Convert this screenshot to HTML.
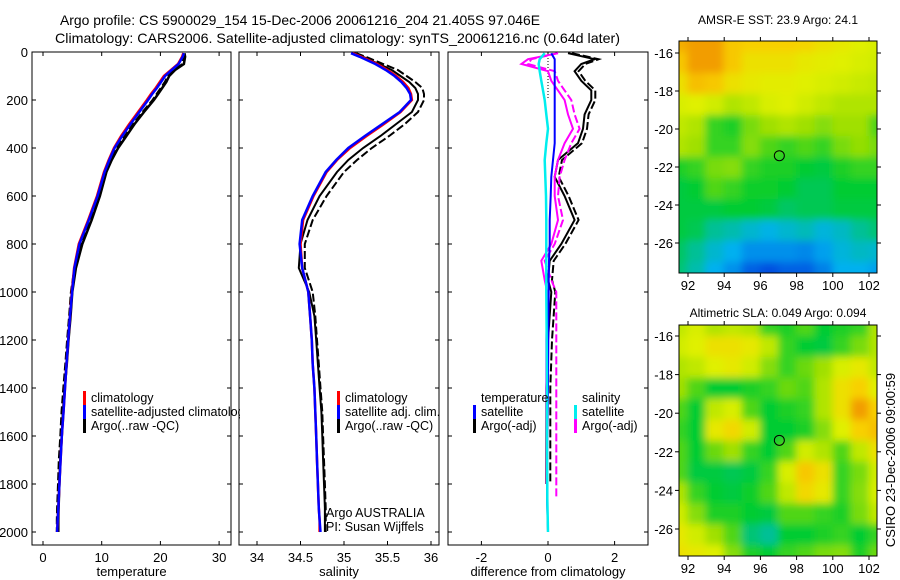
<!DOCTYPE html>
<html><head><meta charset="utf-8"><style>
body{margin:0;background:#fff;}
svg{display:block;font-family:"Liberation Sans",sans-serif;}
</style></head><body>
<svg id="fig" width="900" height="580" viewBox="0 0 900 580">
<defs>
<filter id="blur" x="0" y="0" width="1" height="1"><feGaussianBlur stdDeviation="4"/></filter>
<clipPath id="c1"><rect x="679" y="41" width="198" height="232"/></clipPath>
<clipPath id="c2"><rect x="679" y="325" width="198" height="231"/></clipPath>
<clipPath id="lgclip"><rect x="33" y="370" width="207" height="80"/></clipPath>
</defs>
<text x="60" y="25" font-size="14" textLength="480" lengthAdjust="spacingAndGlyphs">Argo profile: CS 5900029_154 15-Dec-2006 20061216_204 21.405S 97.046E</text>
<text x="55" y="43" font-size="14" textLength="565" lengthAdjust="spacingAndGlyphs">Climatology: CARS2006. Satellite-adjusted climatology: synTS_20061216.nc (0.64d later)</text>
<text x="778" y="24" font-size="12" text-anchor="middle">AMSR-E SST: 23.9  Argo: 24.1</text>
<text x="778" y="317" font-size="12" text-anchor="middle">Altimetric SLA: 0.049  Argo: 0.094</text>
<text x="0" y="0" font-size="13" text-anchor="middle" transform="translate(895,460) rotate(-90)">CSIRO 23-Dec-2006 09:00:59</text>
<g id="g"></g>
</svg>
<script>
const depths=[5,20,50,75,100,125,150,175,200,250,300,350,400,450,500,600,700,800,900,1000,1100,1200,1300,1400,1500,1600,1700,1800,1900,1950,2000];
const tempClim=[23.9,23.7,23.0,21.8,20.6,19.9,19.2,18.4,17.7,16.2,14.7,13.3,12.1,11.2,10.4,9.2,7.7,6.1,5.3,4.9,4.6,4.3,4.0,3.75,3.5,3.2,3.0,2.8,2.6,2.5,2.4];
const tempSat=[24.0,23.8,23.1,21.9,20.8,20.1,19.4,18.6,17.9,16.4,14.9,13.5,12.2,11.3,10.5,9.3,7.8,6.2,5.35,4.95,4.6,4.3,4.0,3.75,3.5,3.2,3.0,2.8,2.6,2.5,2.4];
const tempArgo=[24.1,24.2,24.0,22.5,21.5,21.0,20.3,19.6,18.9,17.2,15.6,14.2,12.8,11.7,10.8,9.7,8.3,6.7,5.6,5.0,4.7,4.35,4.05,3.7,3.4,3.2,2.95,2.8,2.65,2.6,2.6];
const salClim=[35.10,35.2,35.38,35.5,35.6,35.68,35.74,35.77,35.78,35.65,35.46,35.26,35.07,34.92,34.8,34.65,34.53,34.5,34.52,34.59,34.61,34.63,34.64,34.66,34.67,34.68,34.69,34.7,34.71,34.72,34.72];
const salSat=[35.08,35.18,35.36,35.48,35.58,35.66,35.72,35.76,35.77,35.64,35.44,35.24,35.05,34.91,34.79,34.64,34.52,34.49,34.52,34.59,34.61,34.63,34.64,34.66,34.67,34.68,34.69,34.7,34.71,34.72,34.73];
const salArgo=[35.12,35.22,35.4,35.55,35.65,35.75,35.82,35.85,35.85,35.78,35.6,35.42,35.22,35.05,34.92,34.72,34.58,34.5,34.48,34.6,34.66,34.68,34.7,34.72,34.74,34.75,34.76,34.77,34.78,34.78,34.78];
const salArgoQC=[35.14,35.25,35.45,35.62,35.72,35.82,35.9,35.92,35.92,35.85,35.7,35.52,35.32,35.15,35.0,34.8,34.64,34.55,34.55,34.64,34.67,34.69,34.71,34.73,34.75,34.76,34.77,34.78,34.79,34.79,34.79];
const diffDepths=[5,30,50,80,120,160,200,260,320,380,450,520,600,700,800,870,950,1000,1200,1400,1600,1800,1860,2000];
const dTempSat=[0.1,0.2,0.2,0.2,0.2,0.2,0.2,0.2,0.2,0.2,0.15,0.1,0.08,0.05,0.05,0.03,0.02,0.02,0.01,0.0,-0.02,-0.03,-0.03,0.0];
const dSalSat=[-0.1,-0.25,-0.28,-0.25,-0.2,-0.15,-0.1,-0.05,0.0,-0.05,-0.1,-0.08,-0.06,-0.05,-0.05,-0.05,-0.05,-0.05,-0.04,-0.03,-0.03,-0.02,-0.02,0.0];
const dTempArgo=[0.6,1.4,1.0,0.8,1.0,1.3,1.3,1.1,1.05,0.9,0.3,0.2,0.5,0.8,0.4,0.05,0.0,0.1,0.0,-0.05,-0.05,-0.05,null,null];
const dSalArgo=[0.3,-0.6,-0.8,0.0,0.1,0.3,0.5,0.6,0.75,0.5,0.3,0.2,0.2,0.3,0.1,-0.2,-0.1,-0.02,-0.05,-0.05,-0.04,-0.04,null,null];
const dSalArgoQC=[0.3,-0.5,-0.6,0.2,0.3,0.5,0.7,0.8,0.95,0.7,0.5,0.35,0.3,0.45,0.2,-0.1,0.1,0.25,0.25,0.25,0.25,0.25,0.25,null];
const tempTicks=[0,10,20,30], salTicks=[34,34.5,35,35.5,36], diffTicks=[-2,0,2];
const depthTicks=[0,200,400,600,800,1000,1200,1400,1600,1800,2000];
const lonTicks=[92,94,96,98,100,102], latTicks=[-16,-18,-20,-22,-24,-26];
const sstGrid=[
[0.88,0.9,0.9,0.85,0.84,0.84,0.84,0.83,0.8,0.78,0.76,0.75],
[0.85,0.9,0.9,0.85,0.8,0.8,0.8,0.78,0.77,0.76,0.75,0.74],
[0.8,0.86,0.85,0.8,0.78,0.77,0.77,0.76,0.75,0.74,0.73,0.72],
[0.75,0.76,0.74,0.7,0.72,0.75,0.76,0.74,0.72,0.7,0.7,0.7],
[0.72,0.7,0.6,0.58,0.65,0.68,0.7,0.68,0.66,0.68,0.68,0.62],
[0.7,0.68,0.6,0.6,0.66,0.62,0.6,0.62,0.6,0.65,0.67,0.65],
[0.58,0.6,0.65,0.66,0.6,0.58,0.58,0.56,0.55,0.58,0.6,0.6],
[0.55,0.56,0.62,0.6,0.57,0.57,0.56,0.54,0.54,0.56,0.56,0.56],
[0.55,0.55,0.55,0.56,0.56,0.55,0.53,0.54,0.54,0.55,0.55,0.55],
[0.55,0.54,0.5,0.48,0.45,0.43,0.45,0.47,0.44,0.46,0.5,0.52],
[0.53,0.5,0.45,0.42,0.38,0.38,0.38,0.37,0.4,0.44,0.46,0.45],
[0.52,0.48,0.42,0.38,0.32,0.3,0.32,0.32,0.36,0.42,0.42,0.4]];
const slaGrid=[
[0.72,0.75,0.7,0.72,0.7,0.6,0.58,0.62,0.56,0.58,0.6,0.7],
[0.74,0.76,0.8,0.8,0.78,0.72,0.6,0.56,0.55,0.6,0.65,0.7],
[0.7,0.72,0.76,0.78,0.74,0.66,0.6,0.64,0.68,0.75,0.78,0.72],
[0.68,0.62,0.56,0.56,0.58,0.6,0.64,0.62,0.7,0.8,0.84,0.76],
[0.62,0.56,0.72,0.75,0.62,0.56,0.58,0.6,0.7,0.8,0.9,0.84],
[0.6,0.56,0.78,0.82,0.74,0.56,0.56,0.58,0.66,0.76,0.84,0.86],
[0.62,0.56,0.64,0.68,0.6,0.56,0.62,0.74,0.7,0.62,0.72,0.8],
[0.62,0.55,0.55,0.54,0.55,0.6,0.75,0.85,0.8,0.6,0.65,0.74],
[0.7,0.6,0.56,0.55,0.57,0.62,0.72,0.82,0.78,0.6,0.66,0.75],
[0.74,0.66,0.58,0.58,0.56,0.55,0.62,0.62,0.6,0.58,0.65,0.72],
[0.78,0.74,0.68,0.62,0.52,0.5,0.56,0.56,0.58,0.6,0.56,0.6],
[0.8,0.78,0.76,0.66,0.58,0.56,0.6,0.62,0.65,0.66,0.58,0.64]];
const floatLon=97.046, floatLat=-21.405;

const NS="http://www.w3.org/2000/svg";
const G=document.getElementById('g');
function mk(tag,attrs,parent){const e=document.createElementNS(NS,tag);for(const k in attrs)e.setAttribute(k,attrs[k]);(parent||G).appendChild(e);return e;}
const yD=d=>52+d*0.24;
const xT=t=>43+t*5.87, xS=s=>257+(s-34)*87, xDf=v=>548+v*33.3;
const lonX=l=>688+(l-92)*18.1;
const latY1=a=>53+(-16-a)*19.0, latY2=a=>336+(-16-a)*19.3;
const FB=545;

function panel(x0,x1,ticks,xf,lbl,name,showDepth){
  const r=mk('rect',{x:x0,y:52,width:x1-x0,height:FB-52,fill:'none',stroke:'#000','stroke-width':1});
  
  
  ticks.forEach(t=>{const x=xf(t);
    mk('line',{x1:x,x2:x,y1:FB,y2:FB-4,stroke:'#000'});mk('line',{x1:x,x2:x,y1:52,y2:56,stroke:'#000'});
    const tx=mk('text',{x:x,y:562,'font-size':13,'text-anchor':'middle'});tx.textContent=t;
    
    });
  depthTicks.forEach(d=>{const y=yD(d);
    mk('line',{x1:x0,x2:x0+4,y1:y,y2:y,stroke:'#000'});mk('line',{x1:x1,x2:x1-4,y1:y,y2:y,stroke:'#000'});
    if(showDepth){const tx=mk('text',{x:28,y:y+5,'font-size':13,'text-anchor':'end'});tx.textContent=d;
      
      }});
  const t=mk('text',{x:(x0+x1)/2,y:576,'font-size':13,'text-anchor':'middle'});t.textContent=lbl;
  
  
}
function line(xs,ds,xf,col,w,dash,name){
  let p='',pen=false;
  xs.forEach((v,i)=>{if(v===null){pen=false;return;}p+=(pen?'L':'M')+xf(v).toFixed(1)+','+yD(ds[i]).toFixed(1);pen=true;});
  const e=mk('path',{d:p,fill:'none',stroke:col,'stroke-width':w,'stroke-dasharray':dash||'none'});
  
  
}
function legend(x,y,items,name,parent){
  items.forEach((it,i)=>{
    if(it[0])mk('rect',{x:x,y:y+i*14-11,width:3,height:14,fill:it[0]},parent);
    const t=mk('text',{x:x+8,y:y+i*14,'font-size':12.5},parent);t.textContent=it[1];
    
    });
}
panel(32,231,tempTicks,xT,'temperature','temperature-panel',true);
panel(239,439,salTicks,xS,'salinity','salinity-panel',false);
panel(448,648,diffTicks,xDf,'difference from climatology','difference-panel',false);

line(tempArgo,depths,xT,'#000',2.5,null,'temp-argo-raw');
line(tempArgo.map(v=>v-0.25),depths,xT,'#000',2,'8,3','temp-argo-qc');
line(tempClim,depths,xT,'#f00',2.5,null,'temp-climatology');
line(tempSat,depths,xT,'#00f',2.5,null,'temp-satellite-adjusted');
const lg1=mk('g',{'clip-path':'url(#lgclip)'});
legend(83,402,[['#f00','climatology'],['#00f','satellite-adjusted climatology'],['#000','Argo(..raw -QC)']],'temp-legend',lg1);

line(salArgo,depths,xS,'#000',2,null,'sal-argo-raw');
line(salArgoQC,depths,xS,'#000',2,'8,3','sal-argo-qc');
line(salClim,depths,xS,'#f00',2.5,null,'sal-climatology');
line(salSat,depths,xS,'#00f',2.5,null,'sal-satellite-adjusted');
legend(337,402,[['#f00','climatology'],['#00f','satellite adj. clim.'],['#000','Argo(..raw -QC)']],'sal-legend');
const a1=mk('text',{x:326,y:517,'font-size':12.5});a1.textContent='Argo AUSTRALIA';


const a2=mk('text',{x:326,y:531,'font-size':12.5});a2.textContent='PI: Susan Wijffels';



mk('line',{x1:xDf(0),x2:xDf(0),y1:yD(0),y2:yD(200),stroke:'#000','stroke-dasharray':'1,2'});
line(dTempArgo,diffDepths,xDf,'#000',2,null,'diff-temp-argo');
line(dTempArgo.map(v=>v===null?null:v+0.12),diffDepths,xDf,'#000',2,'8,3','diff-temp-argo-qc');
line(dSalArgo,diffDepths,xDf,'#f0f',2,null,'diff-sal-argo');
line(dSalArgoQC,diffDepths,xDf,'#f0f',2,'8,3','diff-sal-argo-qc');
line(dTempSat,diffDepths,xDf,'#00f',2,null,'diff-temp-satellite');
line(dSalSat,diffDepths,xDf,'#0ee',2.5,null,'diff-sal-satellite');
legend(473,402,[[null,'temperature'],['#00f','satellite'],['#000','Argo(-adj)']],'diff-temp-legend');
legend(574,402,[[null,'salinity'],['#0ee','satellite'],['#f0f','Argo(-adj)']],'diff-sal-legend');

const stops=[[0.3,[0,80,224]],[0.42,[0,176,240]],[0.5,[0,192,150]],[0.56,[0,204,48]],[0.68,[160,224,0]],[0.76,[224,240,0]],[0.84,[248,208,0]],[0.92,[240,140,0]]];
function cmap(v){if(v<=stops[0][0])return 'rgb('+stops[0][1]+')';
  for(let i=1;i<stops.length;i++){if(v<=stops[i][0]){const a=stops[i-1],b=stops[i],f=(v-a[0])/(b[0]-a[0]);
    return 'rgb('+a[1].map((c,j)=>Math.round(c+(b[1][j]-c)*f)).join(',')+')';}}
  return 'rgb('+stops[stops.length-1][1]+')';}
function map(grid,y0,h,latY,clip,name){
  const x0=679,w=198;
  const g=mk('g',{'clip-path':'url(#'+clip+')'});
  const gi=mk('g',{filter:'url(#blur)'},g);
  const rows=grid.length,cols=grid[0].length;
  const cw=(w+20)/cols,ch=(h+20)/rows;
  grid.forEach((row,r)=>row.forEach((v,c)=>{
    const cell=mk('rect',{x:x0-10+c*cw,y:y0-10+r*ch,width:cw+0.6,height:ch+0.6,fill:cmap(v)},gi);
    
    }));
  const fr=mk('rect',{x:x0,y:y0,width:w,height:h,fill:'none',stroke:'#000'});
  
  
  lonTicks.forEach(l=>{const x=lonX(l);
    mk('line',{x1:x,x2:x,y1:y0,y2:y0-4,stroke:'#000'});mk('line',{x1:x,x2:x,y1:y0+h,y2:y0+h+4,stroke:'#000'});
    const t=mk('text',{x:x,y:y0+h+17,'font-size':13,'text-anchor':'middle'});t.textContent=l;
    
    });
  latTicks.forEach(a=>{const y=latY(a);
    mk('line',{x1:x0,x2:x0-4,y1:y,y2:y,stroke:'#000'});mk('line',{x1:x0+w,x2:x0+w+4,y1:y,y2:y,stroke:'#000'});
    const t=mk('text',{x:x0-6,y:y+5,'font-size':13,'text-anchor':'end'});t.textContent=a;
    
    });
  const c=mk('circle',{cx:lonX(floatLon),cy:latY(floatLat),r:5,fill:'none',stroke:'#000','stroke-width':1});
  
  
}
map(sstGrid,41,232,latY1,'c1','sst-map');
map(slaGrid,325,231,latY2,'c2','sla-map');
</script>
</body></html>
